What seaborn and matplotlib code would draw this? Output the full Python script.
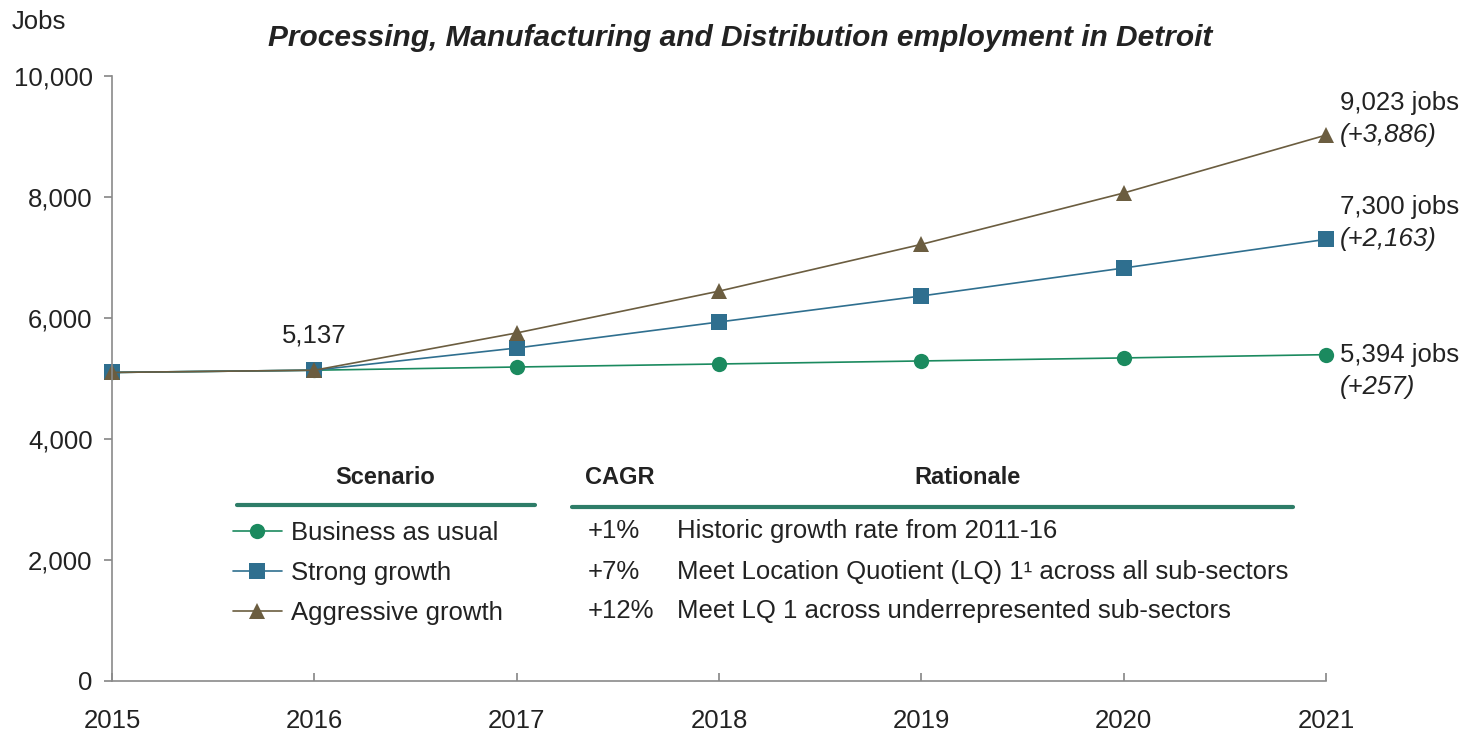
import matplotlib
matplotlib.use("Agg")
import matplotlib.pyplot as plt
import seaborn as sns
import pandas as pd

years = [2015, 2016, 2017, 2018, 2019, 2020, 2021]
business = [5100, 5137, 5190, 5240, 5290, 5340, 5394]
strong = [5100, 5137, 5504, 5934, 6364, 6826, 7300]
aggressive = [5100, 5137, 5753, 6444, 7217, 8066, 9023]
scenarios = ["Business as usual", "Strong growth", "Aggressive growth"]
cagr = ["+1%", "+7%", "+12%"]
rationale = ["Historic growth rate from 2011-16",
             "Meet Location Quotient (LQ) 1\u00b9 across all sub-sectors",
             "Meet LQ 1 across underrepresented sub-sectors"]
end_labels = ["5,394 jobs", "7,300 jobs", "9,023 jobs"]
end_deltas = ["(+257)", "(+2,163)", "(+3,886)"]
y_ticks = [0, 2000, 4000, 6000, 8000, 10000]

colors = {"Business as usual": "#1b8a5f", "Strong growth": "#2f6f8f", "Aggressive growth": "#6b5d40"}
markers = {"Business as usual": "o", "Strong growth": "s", "Aggressive growth": "^"}

df = pd.DataFrame({
    "Year": years * 3,
    "Jobs": business + strong + aggressive,
    "Scenario": [scenarios[0]] * 7 + [scenarios[1]] * 7 + [scenarios[2]] * 7,
})

sns.set_theme(style="white")
plt.rcParams["font.family"] = ["Liberation Sans", "DejaVu Sans"]

FS = 18.5
W, H = 1472, 732
fig = plt.figure(figsize=(W / 100, H / 100), dpi=100)
ax = fig.add_axes([112 / W, 1 - 681 / H, (1326 - 112) / W, (681 - 76) / H])

sns.lineplot(data=df, x="Year", y="Jobs", hue="Scenario", style="Scenario",
             palette=colors, markers=markers, dashes=False, markersize=11,
             linewidth=1.2, markeredgewidth=0, ax=ax, legend=True)
for ln in ax.lines:
    ln.set_clip_on(False)

ax.set_xlim(2015, 2021)
ax.set_ylim(0, 10000)
ax.set_xticks(years)
ax.set_xticklabels([str(y) for y in years])
ax.set_yticks(y_ticks)
ax.set_yticklabels([f"{v:,}" for v in y_ticks])
ax.set_xlabel("")
ax.set_ylabel("")
for s in ["top", "right"]:
    ax.spines[s].set_visible(False)
for s in ["left", "bottom"]:
    ax.spines[s].set_color("#8a8a8a")
    ax.spines[s].set_linewidth(1.2)
ax.tick_params(axis="y", direction="out", length=6, color="#8a8a8a", labelsize=FS, pad=8, left=True)
ax.tick_params(axis="x", direction="in", length=6, color="#8a8a8a", labelsize=FS, pad=20, bottom=True)
for lab in ax.get_xticklabels() + ax.get_yticklabels():
    lab.set_color("#222222")

# Legend as table column
leg = ax.legend(loc="upper left", bbox_to_anchor=(220 / W, 1 - 508 / H),
                bbox_transform=fig.transFigure, frameon=False, fontsize=FS,
                labelspacing=0.62, handlelength=1.9, handletextpad=0.35, borderpad=0)
for t in leg.get_texts():
    t.set_color("#222222")

tc = "#222222"
fig.text(12 / W, 1 - 22 / H, "Jobs", fontsize=FS, color=tc, va="center", ha="left")
fig.text(740 / W, 1 - 38 / H, "Processing, Manufacturing and Distribution employment in Detroit",
         fontsize=21.5, fontweight="bold", fontstyle="italic", color=tc, ha="center", va="center")

# Table headers
fig.text(385 / W, 1 - 477 / H, "Scenario", fontsize=17, fontweight="bold", color=tc, ha="center", va="center")
fig.text(620 / W, 1 - 477 / H, "CAGR", fontsize=17, fontweight="bold", color=tc, ha="center", va="center")
fig.text(968 / W, 1 - 477 / H, "Rationale", fontsize=17, fontweight="bold", color=tc, ha="center", va="center")
line_c = "#2e7d68"
fig.add_artist(plt.Line2D([237 / W, 535 / W], [1 - 505 / H, 1 - 505 / H], color=line_c, lw=3))
fig.add_artist(plt.Line2D([572 / W, 1293 / W], [1 - 507 / H, 1 - 507 / H], color=line_c, lw=3))
row_y = [531, 572, 611]
for i in range(3):
    fig.text(588 / W, 1 - row_y[i] / H, cagr[i], fontsize=FS, color=tc, ha="left", va="center")
    fig.text(677 / W, 1 - row_y[i] / H, rationale[i], fontsize=FS, color=tc, ha="left", va="center")

# Annotations
ax.annotate("5,137", xy=(years[1], business[1]), xytext=(0, 25), textcoords="offset points",
            ha="center", va="center", fontsize=FS, color=tc)
series = [business, strong, aggressive]
for i, s in enumerate(series):
    if i == 0:
        off1, off2 = 0, -23
    else:
        off1, off2 = 23, 0
    ax.annotate(end_labels[i], xy=(years[-1], s[-1]), xytext=(10, off1),
                textcoords="offset points", ha="left", va="center", fontsize=FS, color=tc,
                annotation_clip=False)
    ax.annotate(end_deltas[i], xy=(years[-1], s[-1]), xytext=(10, off2),
                textcoords="offset points", ha="left", va="center", fontsize=FS, color=tc,
                fontstyle="italic", annotation_clip=False)

fig.savefig("out.png", dpi=100)
